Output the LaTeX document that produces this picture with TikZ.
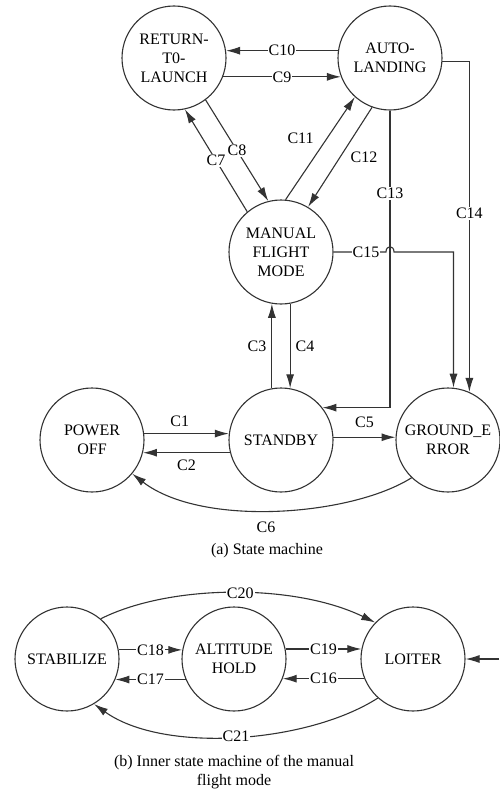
\documentclass[tikz,border=0pt]{standalone}
\usepackage{fontspec}
\setmainfont{Liberation Serif}
\usetikzlibrary{arrows.meta,calc}

\tikzset{
    stnode/.style={draw=black!80, line width=1.1pt, circle, minimum size=104pt, inner sep=0pt, align=center},
    trans/.style={draw=black!80, line width=1.1pt, -{Latex[length=14pt,width=8pt]}},
    lbl/.style={fill=white, inner sep=1pt},
    caption/.style={align=center}
}

\begin{document}
\begin{tikzpicture}[x=1pt, y=-1pt, font=\fontsize{16}{19}\selectfont]
    \useasboundingbox (0,0) rectangle (499,792);

    %states of the state machine
        \node[stnode] (rtl) at (174,58) {RETURN-\\T0-\\LAUNCH};
        \node[stnode] (al) at (390,58) {AUTO-\\LANDING};
        \node[stnode] (mfm) at (281,252) {MANUAL\\FLIGHT\\MODE};
        \node[stnode] (pwr) at (92,440) {POWER\\OFF};
        \node[stnode] (stb) at (281,440) {STANDBY};
        \node[stnode] (gnd) at (448,440) {GROUND\_E\\RROR};

    %transitions between the upper states
        \draw[trans] (al.172) -- node[lbl]{C10} (rtl.8);
        \draw[trans] (rtl.-21) -- node[lbl]{C9} (al.201);
        \draw[trans] (mfm.130) -- node[lbl]{C7} (rtl.-78);
        \draw[trans] (rtl.-53) -- node[lbl]{C8} (mfm.104);
        \draw[trans] (mfm.85) -- node[lbl, pos=0.6, left=12pt]{C11} (al.-132);
        \draw[trans] (al.-110) -- node[lbl, right=9pt]{C12} (mfm.59);

    %long transitions down to standby and ground error
        \coordinate (hop) at (al.south |- mfm.east);
        \draw[trans] (al.south) |- node[lbl, pos=0.14]{C13} (stb.38);
        \draw[trans] (al.-4) -| node[lbl, pos=0.73]{C14} (gnd.66);
        \draw[trans] (mfm.east) -- node[lbl, pos=0.62]{C15} ([xshift=-4pt]hop)
            .. controls +(0,-7) and +(0,-7) .. ([xshift=4pt]hop) -| (gnd.84);

    %transitions between the lower states
        \draw[trans] (stb.100) -- node[lbl, left=4pt]{C3} (mfm.260);
        \draw[trans] (mfm.-80) -- node[lbl, right=4pt]{C4} (stb.80);
        \draw[trans] (pwr.7) -- node[lbl, pos=0.42, above=5pt]{C1} (stb.173);
        \draw[trans] (stb.194) -- node[lbl, below=6pt]{C2} (pwr.-14);
        \draw[trans] (stb.3) -- node[lbl, above=8pt]{C5} (gnd.177);
        \draw[trans] (gnd.226) .. controls +(-60,38) and +(70,54) .. node[lbl, pos=0.53, below=10pt]{C6} (pwr.-40);

        \node[caption] (capa) at (267,551) {(a) State machine};

    %inner state machine of the manual flight mode
        \node[stnode] (stab) at (67,659) {STABILIZE};
        \node[stnode] (alt) at (234,659) {ALTITUDE\\HOLD};
        \node[stnode] (loit) at (413,659) {LOITER};
        \coordinate (ext) at (499,659);

        \draw[trans] (stab.10) -- node[lbl]{C18} (alt.170);
        \draw[trans] (alt.203) -- node[lbl]{C17} (stab.-23);
        \draw[trans] (alt.11) -- node[lbl]{C19} (loit.169);
        \draw[trans] (loit.202) -- node[lbl]{C16} (alt.-22);
        \draw[trans] (stab.50) .. controls +(70,-35) and +(-80,-39) .. node[lbl, pos=0.52]{C20} (loit.136);
        \draw[trans] (loit.228) .. controls +(-70,45) and +(70,50) .. node[lbl]{C21} (stab.-59);
        \draw[trans] (ext) -- (loit.east);

        \node[caption] (capb) at (234,772) {(b) Inner state machine of the manual\\flight mode};

\end{tikzpicture}
\end{document}
